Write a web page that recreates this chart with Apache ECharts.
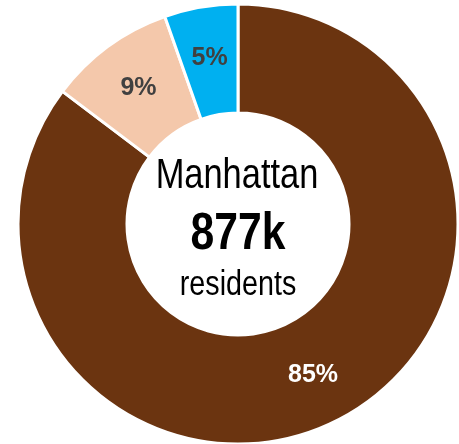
<!DOCTYPE html>
<html>
<head>
<meta charset="utf-8">
<script src="https://cdn.jsdelivr.net/npm/echarts@6/dist/echarts.min.js"></script>
<style>
html,body{margin:0;padding:0;background:#fff;}
#c{width:459px;height:444px;}
</style>
</head>
<body>
<div id="c"></div>
<script>
const categories = ['Group A', 'Group B', 'Group C'];
const shares = [85.3, 9.3, 5.4];
const colors = ['#6B3410', '#F4C8AB', '#00B0F0'];
const labelColors = ['#FFFFFF', '#404040', '#404040'];
const centerTitle = 'Manhattan';
const centerValue = '877k';
const centerUnit = 'residents';

const FONT = '"Liberation Sans", Arial, sans-serif';
const NARROW = 0.82;

const chart = echarts.init(document.getElementById('c'), null, {renderer: 'canvas'});
chart.setOption({
  animation: false,
  backgroundColor: '#ffffff',
  series: [{
    type: 'pie',
    center: [238, 224],
    radius: [111, 220],
    startAngle: 90,
    clockwise: true,
    percentPrecision: 1,
    avoidLabelOverlap: false,
    itemStyle: { borderColor: '#ffffff', borderWidth: 3 },
    label: {
      show: true,
      position: 'inside',
      formatter: p => Math.round(p.percent) + '%',
      fontFamily: FONT,
      fontSize: 25,
      fontWeight: 'bold'
    },
    labelLine: { show: false },
    emphasis: { disabled: true },
    data: categories.map((name, i) => ({
      name: name,
      value: shares[i],
      itemStyle: { color: colors[i] },
      label: { color: labelColors[i] }
    }))
  }],
  graphic: [
    { type: 'text', x: 237, y: 176, scaleX: NARROW, style: { text: centerTitle, x: 0, y: 0, align: 'center', verticalAlign: 'middle', fill: '#000', font: 'normal 42px ' + FONT } },
    { type: 'text', x: 238, y: 234.5, scaleX: NARROW, style: { text: centerValue, x: 0, y: 0, align: 'center', verticalAlign: 'middle', fill: '#000', font: 'bold 52px ' + FONT } },
    { type: 'text', x: 238, y: 285, scaleX: NARROW, style: { text: centerUnit, x: 0, y: 0, align: 'center', verticalAlign: 'middle', fill: '#000', font: 'normal 35px ' + FONT } }
  ]
});
</script>
</body>
</html>
